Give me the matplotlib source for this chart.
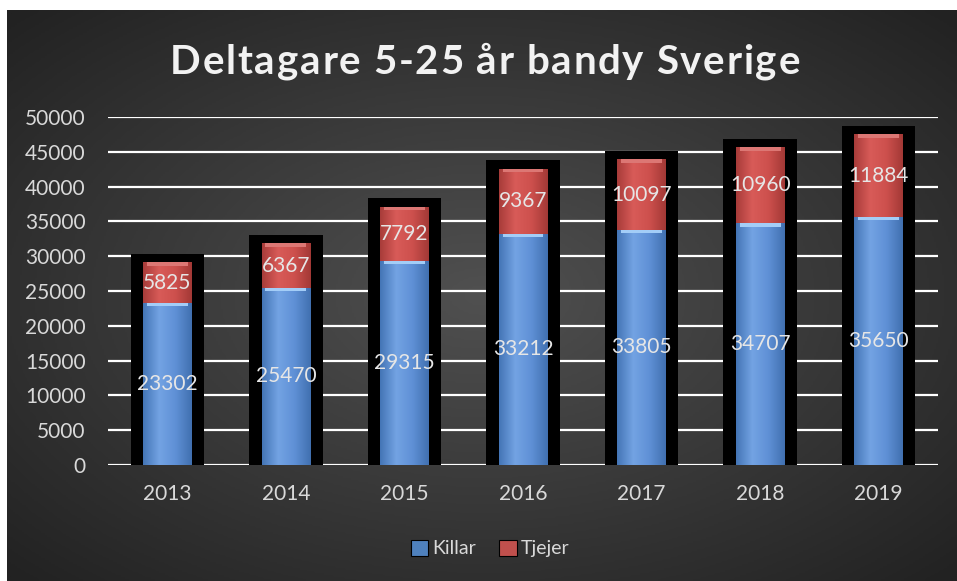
import matplotlib.pyplot as plt
import numpy as np
from matplotlib.patches import Rectangle
from matplotlib.colors import LinearSegmentedColormap

years = ["2013", "2014", "2015", "2016", "2017", "2018", "2019"]
killar = [23302, 25470, 29315, 33212, 33805, 34707, 35650]
tjejer = [5825, 6367, 7792, 9367, 10097, 10960, 11884]

plt.rcParams['font.family'] = ['Lato', 'DejaVu Sans']
txt = '#d9d9d9'

fig = plt.figure(figsize=(9.57, 5.81), dpi=100, facecolor='white')

# background panel with radial gradient
bg = fig.add_axes([7/957, 0, 950/957, 571/581], zorder=-10)
yy, xx = np.mgrid[-1:1:300j, -1:1:500j]
r = np.sqrt(xx**2 + yy**2)
bg.imshow(np.clip(r / 1.4, 0, 1), cmap=LinearSegmentedColormap.from_list('bg', ['#505050', '#222222']),
          aspect='auto', extent=[0, 1, 0, 1])
bg.axis('off')

ax = fig.add_axes([108/957, 1 - 465/581, 830/957, 348/581])
ax.patch.set_alpha(0)
x = np.arange(len(years))
tot = np.array(killar) + np.array(tjejer)

# black backing behind each column
ax.bar(x, tot + 1200, width=0.62, color='black', zorder=2)
b1 = ax.bar(x, killar, width=0.41, color='#4f81bd', zorder=3)
b2 = ax.bar(x, tjejer, bottom=killar, width=0.41, color='#c0504d', zorder=3)


def shade(bars, cols, top_col):
    cm = LinearSegmentedColormap.from_list('c', cols)
    grad = np.linspace(0, 1, 100).reshape(1, -1)
    for b in bars:
        x0, y0 = b.get_x(), b.get_y()
        w, h = b.get_width(), b.get_height()
        im = ax.imshow(grad, cmap=cm, aspect='auto', extent=[x0, x0 + w, y0, y0 + h], zorder=3.5)
        im.set_clip_path(b)
        ax.add_patch(Rectangle((x0 + w * 0.08, y0 + h - 500), w * 0.84, 500,
                               color=top_col, zorder=3.6, lw=0))


shade(b1, ['#4475b6', '#73a3e3', '#5f90d6', '#4170b0'], '#a3cdf7')
shade(b2, ['#a83c3a', '#d85b58', '#cd504d', '#a33936'], '#dc7774')

for i in x:
    ax.text(i, killar[i] / 2, str(killar[i]), ha='center', va='center',
            color='#e6e6e6', fontsize=15, zorder=5)
    ax.text(i, killar[i] + tjejer[i] / 2, str(tjejer[i]), ha='center', va='center',
            color='#e6e6e6', fontsize=15, zorder=5)

ax.set_xlim(-0.5, len(years) - 0.5)
ax.set_ylim(0, 50000)
ax.set_yticks(np.arange(0, 50001, 5000))
ax.set_xticks(x)
ax.set_xticklabels(years)
ax.tick_params(colors=txt, labelsize=15, length=0)
ax.tick_params(axis='y', pad=16)
ax.tick_params(axis='x', pad=14)
ax.grid(axis='y', color='white', lw=1.6, zorder=1)
ax.set_axisbelow(True)
for s in ax.spines.values():
    s.set_visible(False)

# title with extra letter spacing
title = "Deltagare 5-25 år bandy Sverige"
fig.canvas.draw()
rend = fig.canvas.get_renderer()
sp = 1.8
widths = []
for ch in title:
    if ch == ' ':
        widths.append(9)
        continue
    t = fig.text(0, 0, ch, fontsize=29, fontweight='bold')
    widths.append(t.get_window_extent(rend).width)
    t.remove()
total_w = sum(widths) + sp * (len(title) - 1)
xp = 485 - total_w / 2
for ch, w in zip(title, widths):
    fig.text(xp / 957, 1 - 62/581, ch, ha='left', va='center', color='#f2f2f2',
             fontsize=29, fontweight='bold')
    xp += w + sp

leg = ax.legend([b1, b2], ["Killar", "Tjejer"], loc='center', bbox_to_anchor=(0.46, -0.24),
                ncol=2, frameon=False, fontsize=14, labelcolor=txt,
                handlelength=0.9, handleheight=0.9, handletextpad=0.2, columnspacing=1.2)
for h in leg.legend_handles:
    h.set_edgecolor('black')
    h.set_linewidth(0.8)

fig.savefig("out.png", dpi=100, facecolor='white')
